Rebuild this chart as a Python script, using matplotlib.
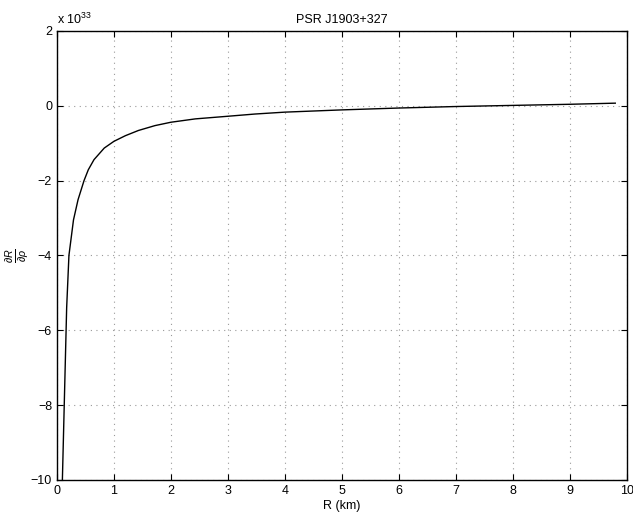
import matplotlib
matplotlib.use("Agg")
import matplotlib.pyplot as plt

plt.rcParams['font.family'] = ['Liberation Sans', 'DejaVu Sans']
plt.rcParams['mathtext.fontset'] = 'custom'
plt.rcParams['mathtext.rm'] = 'Liberation Sans'
plt.rcParams['mathtext.it'] = 'Liberation Sans:italic'

# R in km, dR/drho in units of 1e33
r_km = [0.095, 0.17, 0.21, 0.29, 0.37, 0.475, 0.55, 0.65, 0.83, 1.0, 1.2,
        1.43, 1.72, 2.0, 2.43, 3.0, 3.48, 4.0, 5.0,
        6.0, 7.0, 8.0, 9.0, 9.8]
drdrho = [-10.0, -5.4, -4.0, -3.05, -2.51, -2.0, -1.71, -1.44, -1.13, -0.95, -0.80,
          -0.66, -0.53, -0.44, -0.35, -0.28, -0.22, -0.17, -0.11,
          -0.06, -0.02, 0.01, 0.04, 0.07]

xticks = list(range(0, 11))
yticks = [-10, -8, -6, -4, -2, 0, 2]

fig = plt.figure(figsize=(6.33, 5.16), dpi=100)
ax = fig.add_axes([0.090, 0.070, 0.900, 0.870])
ax.plot(r_km, drdrho, color='black', linewidth=1.0)
ax.set_xlim(0, 10)
ax.set_ylim(-10, 2)
ax.set_xticks(xticks)
ax.set_yticks(yticks)
ax.grid(True, linestyle=(0, (1, 4)), color='#999999', linewidth=0.8)
ax.tick_params(direction='in', top=True, right=True, length=4, labelsize=9)
for s in ax.spines.values():
    s.set_linewidth(1.0)
ax.set_title('PSR J1903+327', fontsize=9, pad=6)
ax.set_xlabel('R (km)', fontsize=9, labelpad=2)
# y label placed by hand so the small fraction sits where the reference has it
ax.text(-0.069, 0.5, r'$\frac{\partial R}{\partial \rho}$', transform=ax.transAxes,
        fontsize=11, rotation=90, ha='center', va='center')
ax.text(0.0, 1.008, r'x 10$^{33}$', transform=ax.transAxes, fontsize=9,
        ha='left', va='bottom')

fig.savefig('out.png', dpi=100)
